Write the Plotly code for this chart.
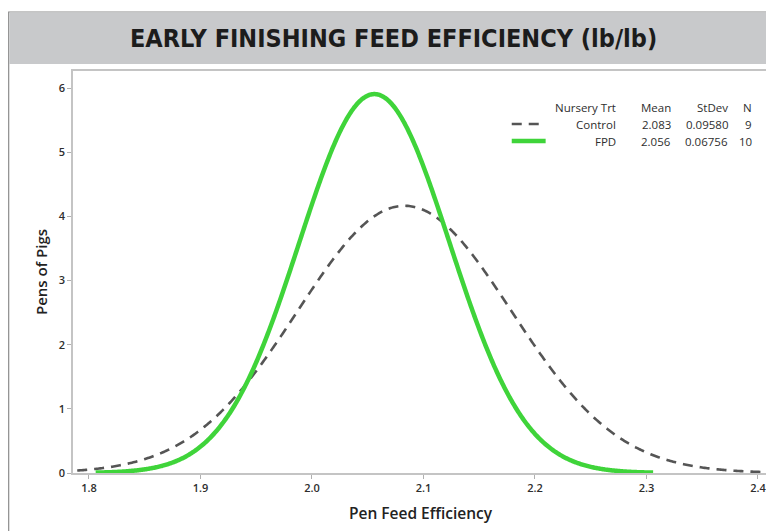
import numpy as np
import plotly.graph_objects as go

groups = ["Control", "FPD"]
means = [2.083, 2.056]
stdevs = [0.09580, 0.06756]
counts = [9, 10]
x_ticks = [1.8, 1.9, 2.0, 2.1, 2.2, 2.3, 2.4]
y_ticks = [0, 1, 2, 3, 4, 5, 6]

title_text = "EARLY FINISHING FEED EFFICIENCY (lb/lb)"
x_title = "Pen Feed Efficiency"
y_title = "Pens of Pigs"

colors = ["#555555", "#3fd43a"]
widths = [2.6, 4.5]
dashes = ["10px,7px", "solid"]

OFF = 8  # browser body margin
W, H = 774 - OFF, 531 - OFF
# plot area in page pixels: x 73..770, y 71..473
PX0, PX1, PY0, PY1 = 73, 770, 71, 473
L, R, T, B = PX0 - OFF, (W + OFF) - PX1, PY0 - OFF, (H + OFF) - PY1
pw, ph = PX1 - PX0, PY1 - PY0


def px_x(p):
    return (p - PX0) / pw


def px_y(p):
    return (PY1 - p) / ph


fig = go.Figure()
for g, m, s, c, w, d in zip(groups, means, stdevs, colors, widths, dashes):
    xs = np.linspace(m - 3.7 * s, m + 3.7 * s, 600)
    ys = np.exp(-0.5 * ((xs - m) / s) ** 2) / (s * np.sqrt(2 * np.pi))
    fig.add_trace(go.Scatter(x=xs, y=ys, mode="lines", name=g,
                             line=dict(color=c, width=w, dash=d, simplify=False),
                             showlegend=False, hoverinfo="skip"))

tick_font = dict(family="Open Sans, Noto Sans, sans-serif", size=11, color="#2e2e2e", weight=600)
x_title_font = dict(family="Open Sans, Noto Sans, sans-serif", size=15.5, color="#222222", weight=600)
y_title_font = dict(family="Open Sans, Noto Sans, sans-serif", size=15, color="#222222", weight=600)

fig.update_xaxes(range=[1.7857, 2.409], tickvals=x_ticks,
                 ticktext=[f"{v:.1f}" for v in x_ticks],
                 showgrid=False, zeroline=False, showline=True, mirror=True,
                 linecolor="#c4c4c4", linewidth=1.5, ticks="outside", ticklen=4,
                 tickcolor="#b0b0b0", tickfont=tick_font,
                 title=dict(text=x_title, font=x_title_font, standoff=14))
fig.update_yaxes(range=[0, 6.265], tickvals=y_ticks,
                 showgrid=False, zeroline=False, showline=True, mirror=True,
                 linecolor="#c4c4c4", linewidth=1.5, ticks="outside", ticklen=4,
                 tickcolor="#b0b0b0", tickfont=tick_font,
                 title=dict(text=y_title, font=y_title_font, standoff=8))

shapes = []
# outer frame + title banner
shapes.append(dict(type="rect", xref="paper", yref="paper",
                   x0=px_x(8.5), x1=px_x(800), y0=px_y(560), y1=px_y(12),
                   line=dict(color="#8c8c8c", width=1.2), fillcolor="rgba(0,0,0,0)", layer="below"))
shapes.append(dict(type="rect", xref="paper", yref="paper",
                   x0=px_x(9.2), x1=px_x(800), y0=px_y(64), y1=px_y(12.6),
                   line=dict(width=0), fillcolor="#c8c9cb", layer="below"))

# legend line samples
leg_rows_y = [108, 124, 141]
shapes.append(dict(type="line", xref="paper", yref="paper",
                   x0=px_x(513), x1=px_x(542), y0=px_y(leg_rows_y[1]), y1=px_y(leg_rows_y[1]),
                   line=dict(color=colors[0], width=widths[0], dash=dashes[0])))
shapes.append(dict(type="line", xref="paper", yref="paper",
                   x0=px_x(513), x1=px_x(547), y0=px_y(leg_rows_y[2]), y1=px_y(leg_rows_y[2]),
                   line=dict(color=colors[1], width=widths[1])))

annotations = []
annotations.append(dict(text=f"<b>{title_text}</b>", xref="paper", yref="paper",
                        x=px_x(394), y=px_y(38), xanchor="center", yanchor="middle",
                        showarrow=False,
                        font=dict(family="Liberation Sans Narrow, DejaVu Sans Condensed, Arial Narrow, sans-serif",
                                  size=25, color="#1c1c1c")))

leg_font = dict(family="Open Sans, Noto Sans, sans-serif", size=11.5, color="#2e2e2e")
col_right = [620, 675, 732, 756]
header = ["Nursery Trt", "Mean", "StDev", "N"]
rows = [header] + [[g, f"{m:.3f}", f"{s:.5f}", str(n)]
                   for g, m, s, n in zip(groups, means, stdevs, counts)]
for ry, row in zip(leg_rows_y, rows):
    for cx, txt in zip(col_right, row):
        annotations.append(dict(text=txt, xref="paper", yref="paper",
                                x=px_x(cx), y=px_y(ry), xanchor="right", yanchor="middle",
                                showarrow=False, font=leg_font))

fig.update_layout(width=W, height=H, margin=dict(l=L, r=R, t=T, b=B),
                  paper_bgcolor="white", plot_bgcolor="white",
                  shapes=shapes, annotations=annotations, showlegend=False)

fig.write_html("out.html")
